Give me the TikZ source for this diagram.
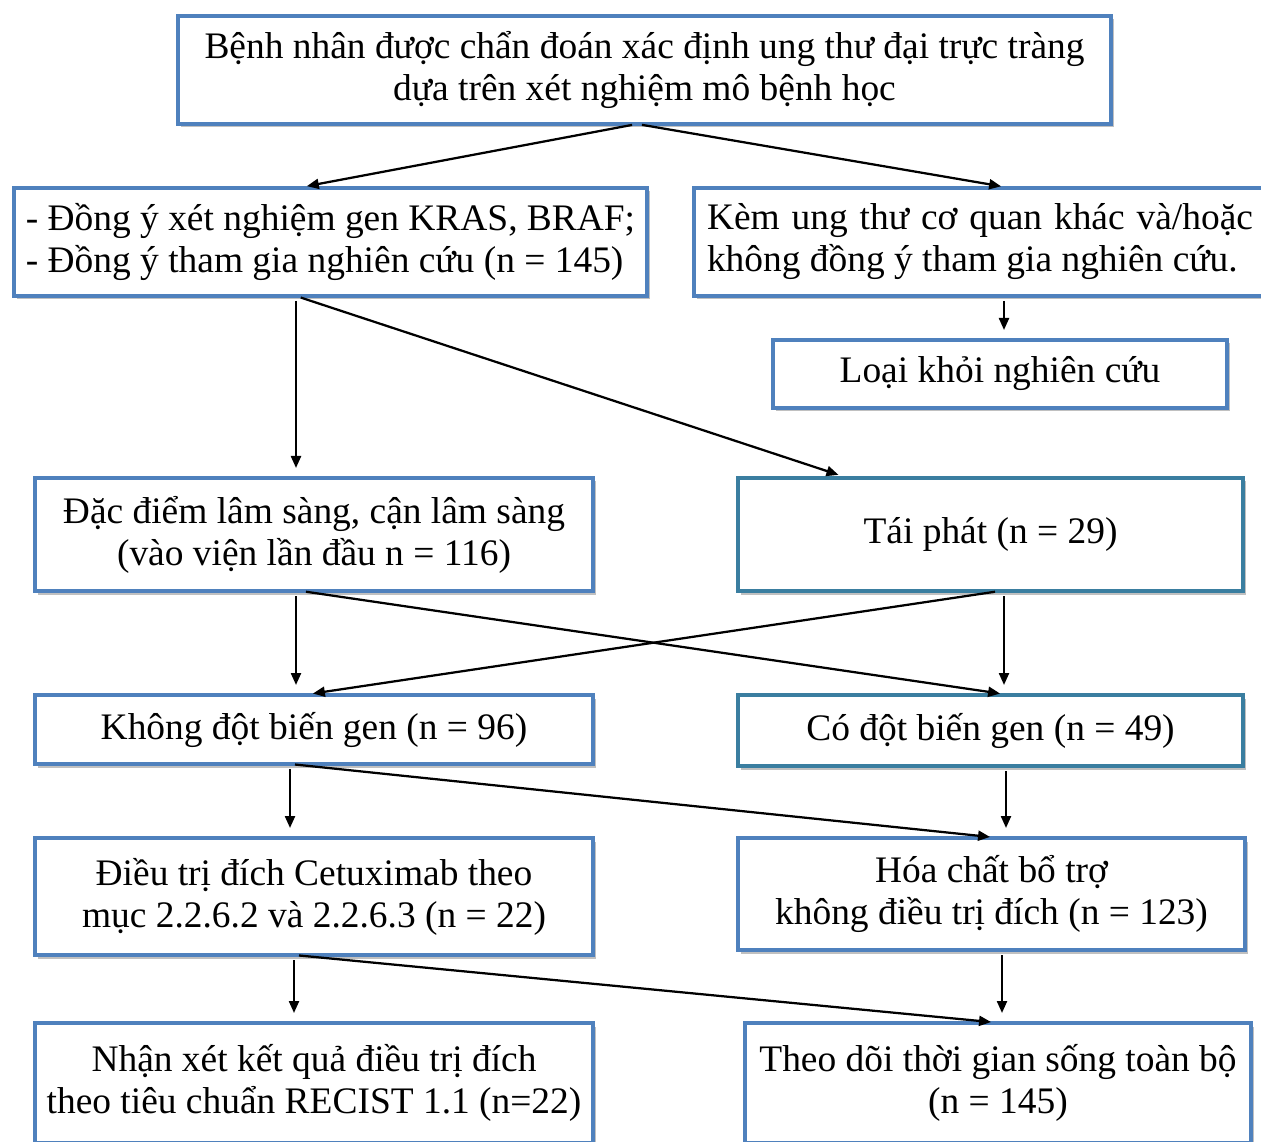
\documentclass[tikz,border=0pt]{standalone}
\usepackage{fontspec}
\setmainfont{Liberation Serif}
\usepackage{tikz}
\usetikzlibrary{arrows.meta,positioning,calc,shadows}
\definecolor{boxblue}{RGB}{79,129,189}
\definecolor{boxteal}{RGB}{58,126,160}

\begin{document}
\begin{tikzpicture}[
  box/.style={draw=boxblue, line width=0.08cm, fill=white, inner sep=0pt, outer sep=0pt,
    align=center, font=\fontsize{21.3}{23.9}\selectfont,
    drop shadow={shadow xshift=0.05cm, shadow yshift=-0.07cm, opacity=0.45, fill=black!55}},
  tealbox/.style={box, draw=boxteal},
  arr/.style={-{Triangle[length=0.24cm, width=0.2cm]}, line width=0.045cm,
    shorten <=0.1cm, shorten >=0.2cm}
]
  \useasboundingbox (0,0) rectangle (25.22,-22.84);
  % Row 1
  \node[box, minimum width=18.66cm, minimum height=2.16cm] (top) at (12.89,-1.4)
    {Bệnh nhân được chẩn đoán xác định ung thư đại trực tràng\\dựa trên xét nghiệm mô bệnh học};
  % Row 2
  \node[box, align=left, minimum width=12.66cm, minimum height=2.16cm] (cons) at (6.61,-4.84)
    {- Đồng ý xét nghiệm gen KRAS, BRAF;\\- Đồng ý tham gia nghiên cứu (n = 145)};
  \node[box, align=left, inner xsep=0.26cm, minimum height=2.16cm] (excl) at (19.6,-4.84)
    {\makebox[10.92cm][s]{Kèm ung thư cơ quan khác và/hoặc}\\không đồng ý tham gia nghiên cứu.};
  \node[box, minimum width=9.08cm, minimum height=1.36cm] (drop) at (20.0,-7.48)
    {Loại khỏi nghiên cứu};
  % Row 3
  \node[box, minimum width=11.16cm, minimum height=2.26cm] (clin) at (6.28,-10.69)
    {Đặc điểm lâm sàng, cận lâm sàng\\(vào viện lần đầu n = 116)};
  \node[tealbox, minimum width=10.1cm, minimum height=2.26cm] (recur) at (19.81,-10.69)
    {Tái phát (n = 29)};
  % Row 4
  \node[box, minimum width=11.16cm, minimum height=1.38cm] (nomut) at (6.28,-14.59)
    {Không đột biến gen (n = 96)};
  \node[tealbox, minimum width=10.1cm, minimum height=1.42cm] (mut) at (19.81,-14.61)
    {Có đột biến gen (n = 49)};
  % Row 5
  \node[box, minimum width=11.16cm, minimum height=2.34cm] (cetux) at (6.28,-17.93)
    {Điều trị đích Cetuximab theo\\mục 2.2.6.2 và 2.2.6.3 (n = 22)};
  \node[box, minimum width=10.14cm, minimum height=2.24cm] (chemo) at (19.83,-17.88)
    {Hóa chất bổ trợ\\không điều trị đích (n = 123)};
  % Row 6
  \node[box, minimum width=11.16cm, minimum height=2.4cm] (recist) at (6.28,-21.66)
    {Nhận xét kết quả điều trị đích\\theo tiêu chuẩn RECIST 1.1 (n=22)};
  \node[box, minimum width=10.12cm, minimum height=2.4cm] (surv) at (19.96,-21.66)
    {Theo dõi thời gian sống toàn bộ\\(n = 145)};
  % Connectors
  \draw[arr] ([xshift=-0.15cm]top.south) -- ([xshift=-0.67cm]cons.north);
  \draw[arr] ([xshift=-0.15cm]top.south) -- ([xshift=0.62cm]excl.north);
  \draw[arr] ([xshift=-0.69cm]cons.south) coordinate (c1) -- (c1 |- clin.north);
  \draw[arr] ([xshift=-0.69cm]cons.south) -- ([xshift=-2.85cm]recur.north);
  \draw[arr] ([xshift=0.48cm]excl.south) coordinate (e1) -- (e1 |- drop.north);
  \draw[arr] ([xshift=-0.36cm]clin.south) coordinate (l1) -- (l1 |- nomut.north);
  \draw[arr] ([xshift=-0.26cm]clin.south) -- ([xshift=0.39cm]mut.north);
  \draw[arr] ([xshift=0.19cm]recur.south) -- ([xshift=-0.22cm]nomut.north);
  \draw[arr] ([xshift=0.27cm]recur.south) coordinate (r1) -- (r1 |- mut.north);
  \draw[arr] ([xshift=-0.48cm]nomut.south) coordinate (n1) -- (n1 |- cetux.north);
  \draw[arr] ([xshift=-0.48cm]nomut.south) -- ([xshift=0.17cm]chemo.north);
  \draw[arr] ([xshift=0.31cm]mut.south) coordinate (m1) -- (m1 |- chemo.north);
  \draw[arr] ([xshift=-0.40cm]cetux.south) coordinate (t1) -- (t1 |- recist.north);
  \draw[arr] ([xshift=-0.40cm]cetux.south) -- ([xshift=0.06cm]surv.north);
  \draw[arr] ([xshift=0.21cm]chemo.south) coordinate (h1) -- (h1 |- surv.north);
\end{tikzpicture}
\end{document}
